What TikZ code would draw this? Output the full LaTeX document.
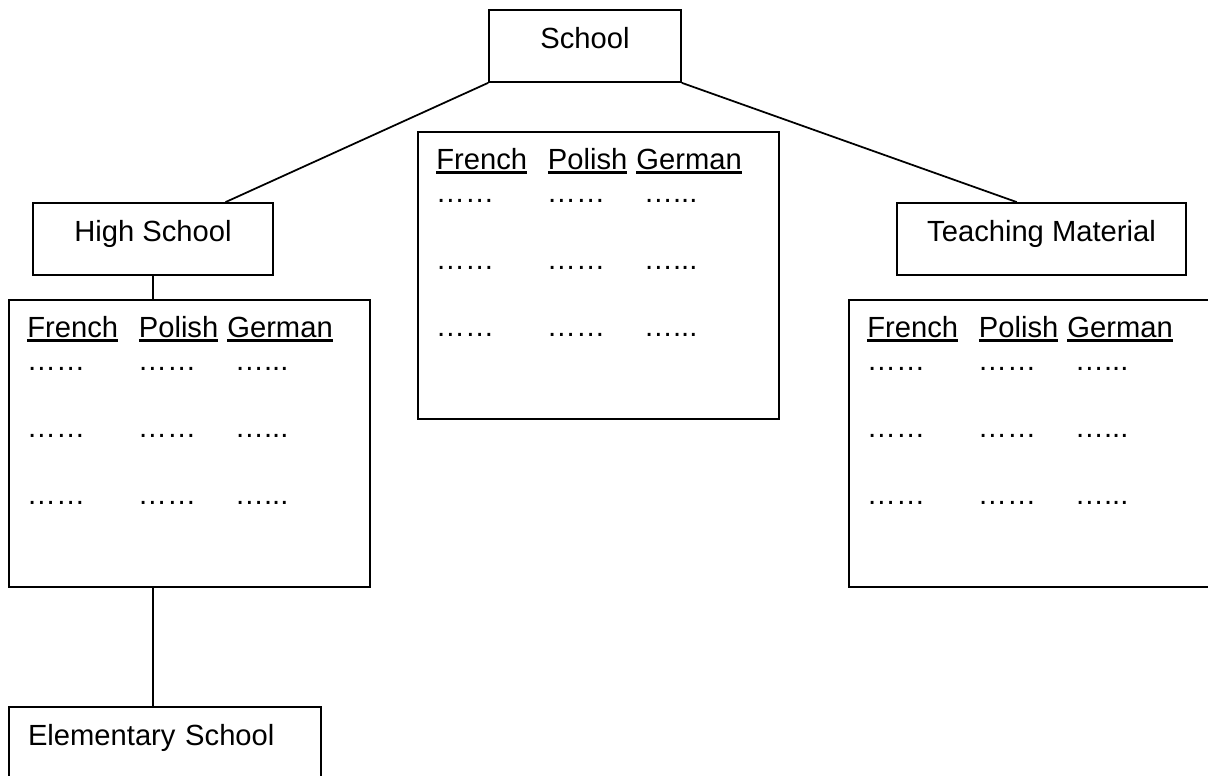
\documentclass[tikz,border=0pt]{standalone}
\usepackage{fontspec}
\setmainfont{Liberation Sans}
\usetikzlibrary{calc}
\newcommand{\ulined}[1]{\setbox0=\hbox{#1}\rlap{\rule[-2.3pt]{\wd0}{1.4pt}}\box0}
\tikzset{
  box/.style={rectangle, draw, inner xsep=0pt, inner ysep=0pt, text height=0.78cm, text depth=0.66cm},
  listbox/.style={rectangle, draw, minimum width=7.22cm, minimum height=5.74cm, inner sep=0pt},
  cell/.style={anchor=base west, inner sep=0pt}
}
\begin{document}
\begin{tikzpicture}[x=0.02cm, y=-0.02cm, line width=1pt, font=\fontsize{16.6}{19.9}\selectfont]
\useasboundingbox (0,0) rectangle (1208,776);
\clip (0,0) rectangle (1208,776);
% the four boxes
\node [box, minimum width=3.84cm] (school) at (585,46) {School};
\node [box, minimum width=4.8cm] (high) at (153,239) {High School};
\node [box, minimum width=5.78cm] (teach) at (1041.5,239) {Teaching Material};
\node [box, text width=5.48cm, inner xsep=0.38cm, align=left] (elem) at (165,743) {Elementary School};
% the three word lists
\foreach \t/\x/\y in {high/8/299, school/417/131, teach/848/299} {
  \node [listbox, anchor=north west] (\t-list) at (\x,\y) {};
  \foreach \c/\w/\dx in {fr/French/18.5, pl/Polish/130, de/German/218.5}
    \node [cell] (\t-\c) at (\x+\dx,\y+38.5) {\ulined{\w}};
  \foreach \r/\dy in {1/72, 2/139, 3/206} {
    \node [cell] (\t-dots\r a) at (\x+18,\y+\dy) {……};
    \node [cell] (\t-dots\r b) at (\x+129,\y+\dy) {……};
    \node [cell] (\t-dots\r c) at (\x+226,\y+\dy) {…...};
  }
}
% connectors
\draw (school.south west) -- ($(high.north)!0.6!(high.north east)$);
\draw (school.south east) -- ($(teach.north)!0.17!(teach.north west)$);
\draw (high.south) -- (high.south |- high-list.north);
\draw (high.south |- high-list.south) -- (high.south |- elem.north);
\end{tikzpicture}
\end{document}
